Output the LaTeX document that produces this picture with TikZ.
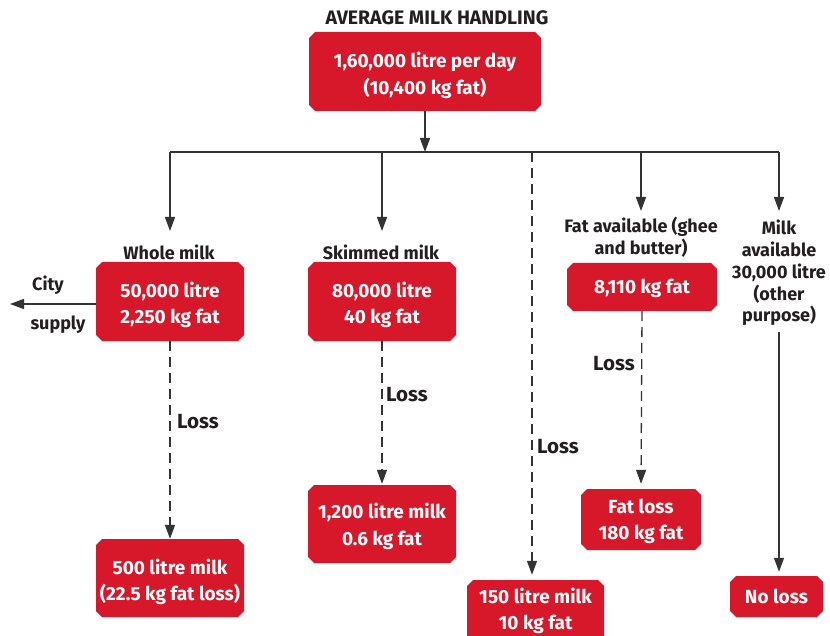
\documentclass[tikz,border=0pt]{standalone}
\usepackage{fontspec}
\setmainfont{Fira Sans}
\usetikzlibrary{arrows.meta}
\definecolor{boxred}{HTML}{D6182A}
\definecolor{ink}{HTML}{231F20}
\definecolor{wire}{HTML}{333333}
\tikzset{
  % red box with cut corners, filled inside the node outline
  redbox/.style={rectangle, draw=none, inner sep=0pt,
    path picture={
      \fill[boxred]
        ([xshift=6pt]path picture bounding box.north west) --
        ([xshift=-6pt]path picture bounding box.north east) --
        ([yshift=-6pt]path picture bounding box.north east) --
        ([yshift=6pt]path picture bounding box.south east) --
        ([xshift=-6pt]path picture bounding box.south east) --
        ([xshift=6pt]path picture bounding box.south west) --
        ([yshift=6pt]path picture bounding box.south west) --
        ([yshift=-6pt]path picture bounding box.north west) -- cycle;
    }},
  boxtext/.style={text=white, align=center, inner sep=0pt,
    font=\fontsize{19}{26.5}\selectfont\bfseries},
  lbl/.style={text=ink, align=center, inner sep=0pt,
    font=\fontsize{18}{21.7}\selectfont\bfseries},
  losslbl/.style={text=ink, inner sep=0pt,
    font=\fontsize{20.5}{22}\selectfont\bfseries},
  wirearrow/.style={draw=wire, line width=1.3pt,
    -{Triangle[length=14pt,width=10pt]}},
  wireline/.style={draw=wire, line width=1.3pt},
  lossarrow/.style={wirearrow, dash pattern=on 10pt off 6pt},
}
\begin{document}
\begin{tikzpicture}[x=1pt,y=-1pt]
\useasboundingbox (0,0) rectangle (830,636);
\fill[white] (0,0) rectangle (830,636);

% heading and source box
\node[lbl, font=\fontsize{19.5}{22}\selectfont\bfseries] (title) at (437,18) {AVERAGE MILK HANDLING};
\node[redbox, minimum width=232pt, minimum height=79pt,
  label={[boxtext, yshift=-4pt]center:{1,60,000 litre per day\\(10,400 kg fat)}}]
  (top) at (425,71.5) {};

% distribution bus
\coordinate (busL) at (170,152);
\coordinate (busR) at (779,152);
\coordinate (busS) at (382,152);
\coordinate (busD) at (532,152);
\coordinate (busF) at (641,152);
\coordinate (tipA) at (0,231);
\coordinate (tipB) at (0,211);
\draw[wirearrow] (top.south) -- (top.south |- busL);
\draw[wireline] (busL) -- (busR);

% first-level branches
\node[lbl] (wlbl) at (169,252) {Whole milk};
\node[redbox, minimum width=148pt, minimum height=79pt,
  label={[boxtext, yshift=-3.5pt]center:{50,000 litre\\2,250 kg fat}}]
  (whole) at (170,301.5) {};
\node[lbl] (slbl) at (381,252) {Skimmed milk};
\node[redbox, minimum width=148pt, minimum height=79pt,
  label={[boxtext, yshift=-3.5pt]center:{80,000 litre\\40 kg fat}}]
  (skim) at (382,301.5) {};
\node[lbl] (flbl) at (641,237) {Fat available (ghee\\and butter)};
\node[redbox, minimum width=150pt, minimum height=48pt,
  label={[boxtext, yshift=-1.5pt]center:{8,110 kg fat}}]
  (fat) at (642,287) {};
\node[lbl] (mlbl) at (779,273) {Milk\\available\\30,000 litre\\(other\\purpose)};

\draw[wirearrow] (busL) -- (busL |- tipA);
\draw[wirearrow] (busS) -- (busS |- tipA);
\draw[wirearrow] (busF) -- (busF |- tipB);
\draw[wirearrow] (busR) -- (busR |- tipB);

% city supply
\coordinate (cityEnd) at (10,304);
\draw[wirearrow] (whole.west |- cityEnd) -- (cityEnd);
\node[lbl] (city) at (48,285) {City};
\node[lbl] (supply) at (58,325) {supply};

% losses
\node[redbox, minimum width=148pt, minimum height=78pt,
  label={[boxtext, yshift=-4pt]center:{500 litre milk\\(22.5 kg fat loss)}}]
  (w500) at (170,578) {};
\node[redbox, minimum width=148pt, minimum height=78pt,
  label={[boxtext, yshift=-2.5pt]center:{1,200 litre milk\\0.6 kg fat}}]
  (s1200) at (382,524) {};
\node[redbox, minimum width=137pt, minimum height=62pt,
  label={[boxtext]center:{150 litre milk\\10 kg fat}}]
  (d150) at (535.5,611) {};
\node[redbox, minimum width=120pt, minimum height=61pt,
  label={[boxtext, yshift=-2pt]center:{Fat loss\\180 kg fat}}]
  (floss) at (641,519.5) {};
\node[redbox, minimum width=93pt, minimum height=41pt,
  label={[boxtext]center:{No loss}}]
  (noloss) at (776.5,596.5) {};

\draw[lossarrow] (whole.south) -- (w500.north);
\draw[lossarrow, shorten >=1pt] (skim.south) -- (s1200.north);
\draw[lossarrow, shorten >=5pt] (busD) -- (busD |- d150.north);
\draw[lossarrow, shorten >=5pt] (fat.south) -- (floss.north);
\draw[wirearrow, shorten >=4pt] ([yshift=-6pt]mlbl.south) -- (mlbl.south |- noloss.north);

\node[losslbl] (loss1) at (198,422) {Loss};
\node[losslbl] (loss2) at (407,395) {Loss};
\node[losslbl] (loss3) at (558,447) {Loss};
\node[losslbl] (loss4) at (614,364) {Loss};
\end{tikzpicture}
\end{document}
